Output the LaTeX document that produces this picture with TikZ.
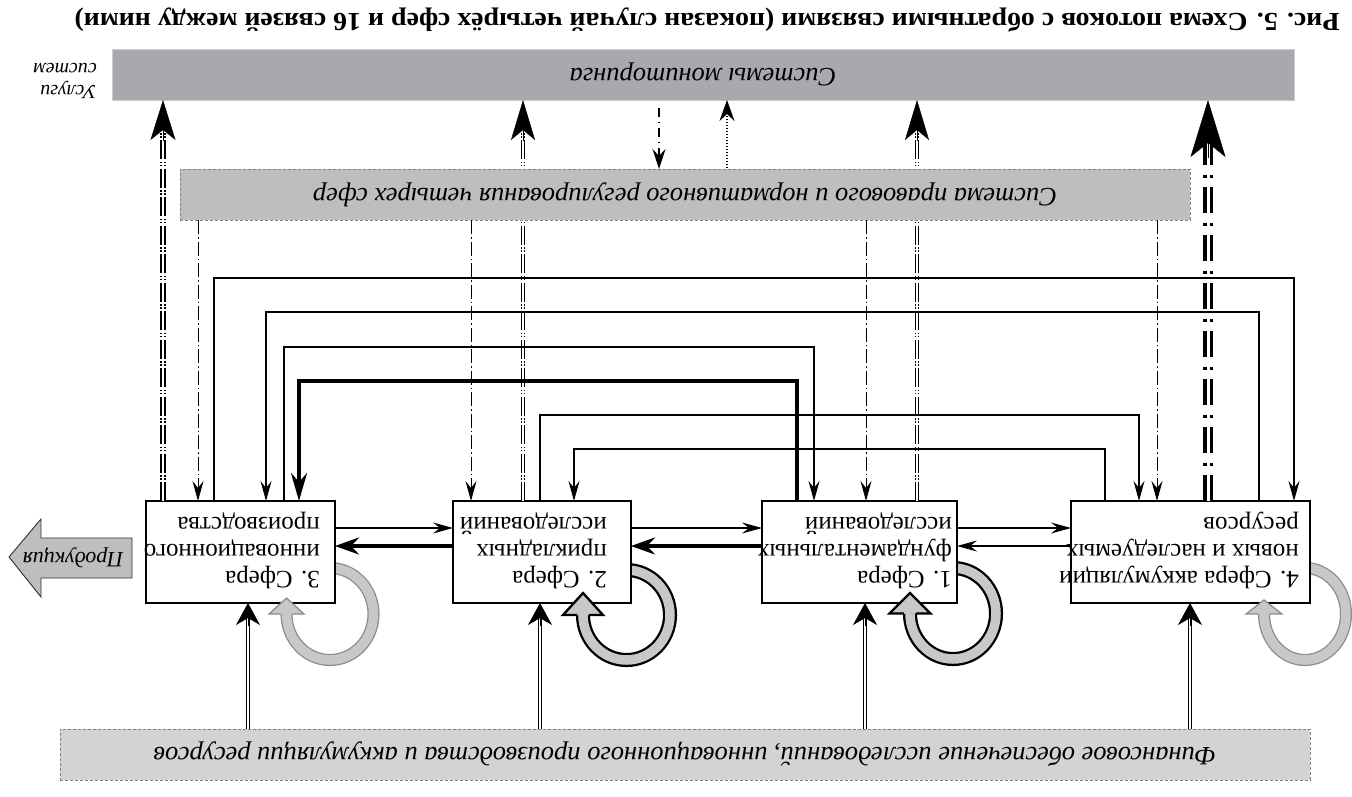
\documentclass[tikz,border=0pt]{standalone}
\usepackage{fontspec}
\setmainfont{Liberation Serif}
\usetikzlibrary{arrows.meta,calc}
\definecolor{monfill}{HTML}{A7A9AC}
\definecolor{legfill}{HTML}{BCBEC0}
\definecolor{finfill}{HTML}{D1D3D4}
\definecolor{loopfill}{HTML}{C7C8CA}
\definecolor{loopline}{HTML}{8A8C8F}
\definecolor{dashgray}{HTML}{808285}
\newcommand\looparc[6]{%
  \draw[line width=#5pt, draw=#6, double=loopfill, double distance=9.5pt]
    (#1,#2+#4) arc[start angle=90, end angle=-180, x radius=#3, y radius=#4];}
\newcommand\loophead[7]{%
  \filldraw[line width=#6pt, draw=#7, fill=loopfill, line join=miter]
    (#1-#3+4.75+#6/2,#2) -- (#1-#3+#4,#2) -- (#1-#3,#2+#5) -- (#1-#3-#4,#2) -- (#1-#3-4.75-#6/2,#2);}
\begin{document}
\begin{tikzpicture}[x=1pt,y=1pt,
  sbox/.style={draw=black, line width=1.3pt, fill=white, inner sep=0pt, outer sep=0pt, minimum height=102pt},
  gbox/.style={inner sep=0pt, outer sep=0pt, minimum height=51pt, font=\fontsize{26.5}{30}\selectfont\itshape},
  dashbord/.style={draw=dashgray, line width=0.8pt, dash pattern=on 3pt off 2pt},
  btext/.style={inner sep=0pt, font=\fontsize{25}{27}\selectfont},
  thinl/.style={line width=1.1pt},
  thickl/.style={line width=3.8pt},
  tipS/.style={-{Stealth[length=20pt,width=11pt,inset=7pt]}},
  tipT/.style={-{Stealth[length=24pt,width=17pt,inset=8pt]}},
  ddlM/.style={draw=black, line width=1.4pt, double=white, double distance=2pt,
     dash pattern=on 19pt off 2.5pt on 1.5pt off 1.5pt on 1.5pt off 2.5pt},
  ddlL/.style={draw=black, line width=2pt, double=white, double distance=2.5pt,
     dash pattern=on 19pt off 2.5pt on 1.5pt off 1.5pt on 1.5pt off 2.5pt},
  ddlR/.style={draw=black, line width=3.5pt, double=white, double distance=3pt,
     dash pattern=on 26pt off 9pt on 3pt off 10pt},
  dashdot/.style={line width=1pt, dash pattern=on 14pt off 3pt on 1.5pt off 3pt},
  finl/.style={draw=black, line width=1.1pt, double=white, double distance=2pt},
  headl/.style={line width=0.5pt}
]
\useasboundingbox (0,0) rectangle (1352,-796);

% caption
\node[inner sep=0pt, font=\fontsize{26}{26}\selectfont\bfseries] (cap) at (707,-20)
  {\rotatebox{180}{\resizebox{1265pt}{\height}{Рис. 5. Схема потоков с обратными связями (показан случай четырёх сфер и 16 связей между ними)}}};

% grey boxes
\node[gbox, fill=monfill, draw=monfill!60!white, line width=0.8pt, minimum width=1182pt] (mon) at (703,-74.5)
  {\rotatebox{180}{Системы мониторинга}};
\node[gbox, fill=finfill, dashbord, minimum width=1250pt] (fin) at (685,-754.5)
  {\rotatebox{180}{Финансовое обеспечение исследований, инновационного производства и аккумуляции ресурсов}};
\node[inner sep=0pt, anchor=east, font=\fontsize{20}{22}\selectfont\itshape] (usl) at (97,-79)
  {\rotatebox{180}{\begin{tabular}{@{}l@{}}Услуги\\систем\end{tabular}}};

% self loops (bands)
\looparc{330}{-614}{43.5}{46}{1.3}{loopline}
\looparc{626.5}{-615}{43.5}{45}{2.3}{black}
\looparc{953}{-613.5}{43}{45.5}{2.3}{black}
\looparc{1305}{-614}{41}{46}{1.3}{loopline}

% sphere boxes
\node[sbox, minimum width=189pt] (b3) at (240.5,-552) {};
\node[sbox, minimum width=178pt] (b2) at (542,-552) {};
\node[sbox, minimum width=195pt] (b1) at (859.5,-552) {};
\node[sbox, minimum width=239pt] (b4) at (1190.5,-552) {};
\node[btext, anchor=south east] (t3) at (320,-591)
  {\rotatebox{180}{\begin{tabular}{@{}l@{}}3. Сфера\\инновационного\\производства\end{tabular}}};
\node[btext, anchor=south east] (t2) at (607,-591)
  {\rotatebox{180}{\begin{tabular}{@{}l@{}}2. Сфера\\прикладных\\исследований\end{tabular}}};
\node[btext, anchor=south east] (t1) at (952,-591)
  {\rotatebox{180}{\begin{tabular}{@{}l@{}}1. Сфера\\фундаментальных\\исследований\end{tabular}}};
\node[btext, anchor=south east] (t4) at (1299,-591)
  {\rotatebox{180}{\begin{tabular}{@{}l@{}}4. Сфера аккумуляции\\новых и наследуемых\\ресурсов\end{tabular}}};

% boxes -> monitoring
\draw[ddlL, shorten >=29pt] (163,0 |- b3.north) -- (163,0 |- mon.south);
\draw[headl, -{Stealth[length=40pt,width=25pt,inset=10pt]}] ($(163,0 |- mon.south)+(0,-41)$) -- (163,0 |- mon.south);
\draw[ddlM, shorten >=29pt] (523,0 |- b2.north) -- (523,0 |- mon.south);
\draw[headl, -{Stealth[length=40pt,width=24pt,inset=10pt]}] ($(523,0 |- mon.south)+(0,-41)$) -- (523,0 |- mon.south);
\draw[ddlM, shorten >=29pt] (917,0 |- b1.north) -- (917,0 |- mon.south);
\draw[headl, -{Stealth[length=40pt,width=24pt,inset=10pt]}] ($(917,0 |- mon.south)+(0,-41)$) -- (917,0 |- mon.south);
\draw[ddlR, shorten >=42pt] (1208,0 |- b4.north) -- (1208,0 |- mon.south);
\draw[headl, -{Stealth[length=57pt,width=35pt,inset=14pt]}] ($(1208,0 |- mon.south)+(0,-58)$) -- (1208,0 |- mon.south);

% legal box
\node[gbox, fill=legfill, dashbord, minimum width=1010pt] (leg) at (685,-194.5)
  {\rotatebox{180}{Система правового и нормативного регулирования четырех сфер}};

% monitoring <-> legal
\draw[line width=1.2pt, dash pattern=on 9pt off 4.5pt on 1.5pt off 5pt, shorten <=8pt,
  -{Stealth[length=20pt,width=13pt,inset=7pt]}] (659,0 |- mon.south) -- (659,0 |- leg.north);
\draw[line width=1.5pt, dash pattern=on 1.3pt off 1.7pt, shorten <=1pt,
  -{Stealth[length=21pt,width=15pt,inset=7pt]}] (727,0 |- leg.north) -- (727,0 |- mon.south);

% legal -> boxes
\draw[dashdot, tipS] (198,0 |- leg.south) -- (198,0 |- b3.north);
\draw[dashdot, tipS] (471,0 |- leg.south) -- (471,0 |- b2.north);
\draw[dashdot, tipS] (866,0 |- leg.south) -- (866,0 |- b1.north);
\draw[dashdot, tipS] (1157,0 |- leg.south) -- (1157,0 |- b4.north);

% feedback connectors over the top
\draw[thinl, tipS] (214,0 |- b3.north) |- (1294,-278) -- (1294,0 |- b4.north);
\draw[thinl, tipS] (1259,0 |- b4.north) |- (266,-312) -- (266,0 |- b3.north);
\draw[thinl, tipS] (284,0 |- b3.north) |- (814,-347) -- (814,0 |- b1.north);
\draw[line width=3.5pt, -{Stealth[length=28pt,width=16pt,inset=9pt]}] (797,0 |- b1.north) |- (299,-381) -- (299,0 |- b3.north);
\draw[thinl, tipS] (540,0 |- b2.north) |- (1139,-415) -- (1139,0 |- b4.north);
\draw[thinl, tipS] (1105,0 |- b4.north) |- (574,-449) -- (574,0 |- b2.north);

% horizontal connectors
\draw[thinl, tipS] (b3.east |- 0,-528) -- (b2.west |- 0,-528);
\draw[thickl, tipT] (b2.west |- 0,-546) -- (b3.east |- 0,-546);
\draw[thinl, tipS] (b2.east |- 0,-528) -- (b1.west |- 0,-528);
\draw[thickl, tipT] (b1.west |- 0,-546) -- (b2.east |- 0,-546);
\draw[thinl, tipS] (b1.east |- 0,-528) -- (b4.west |- 0,-528);
\draw[thinl, tipS] (b4.west |- 0,-546) -- (b1.east |- 0,-546);

% finance -> boxes
\draw[finl, shorten >=15pt] (248,0 |- fin.north) -- (248,0 |- b3.south);
\draw[headl, -{Stealth[length=22pt,width=24pt,inset=7pt]}] ($(248,0 |- b3.south)+(0,-23)$) -- (248,0 |- b3.south);
\draw[finl, shorten >=15pt] (540,0 |- fin.north) -- (540,0 |- b2.south);
\draw[headl, -{Stealth[length=22pt,width=24pt,inset=7pt]}] ($(540,0 |- b2.south)+(0,-23)$) -- (540,0 |- b2.south);
\draw[finl, shorten >=15pt] (865,0 |- fin.north) -- (865,0 |- b1.south);
\draw[headl, -{Stealth[length=22pt,width=24pt,inset=7pt]}] ($(865,0 |- b1.south)+(0,-23)$) -- (865,0 |- b1.south);
\draw[finl, shorten >=15pt] (1190,0 |- fin.north) -- (1190,0 |- b4.south);
\draw[headl, -{Stealth[length=22pt,width=24pt,inset=7pt]}] ($(1190,0 |- b4.south)+(0,-23)$) -- (1190,0 |- b4.south);

% loop heads
\loophead{330}{-614}{43.5}{17.5}{16}{1.3}{loopline}
\loophead{626.5}{-615}{43.5}{20}{22}{2.3}{black}
\loophead{953}{-613.5}{43}{20.5}{20.5}{2.3}{black}
\loophead{1305}{-614}{41}{18}{14}{1.3}{loopline}

% product arrow
\filldraw[fill=legfill, draw=black!80, line width=0.9pt, line join=miter]
  (132,-538) -- (41,-538) -- (41,-519) -- (9,-557) -- (41,-597) -- (41,-578) -- (132,-578) -- cycle;
\node[inner sep=0pt, font=\fontsize{22}{24}\selectfont\itshape] (prod) at (73,-558) {\rotatebox{180}{Продукция}};
\end{tikzpicture}
\end{document}
